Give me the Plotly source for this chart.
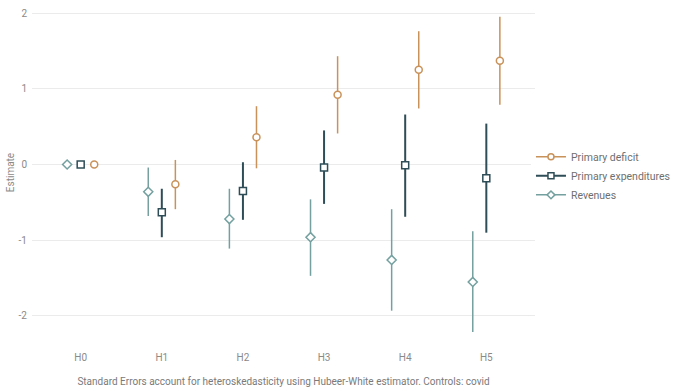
import plotly.graph_objects as go

categories = ["H0", "H1", "H2", "H3", "H4", "H5"]

deficit_est = [0.0, -0.26, 0.36, 0.92, 1.25, 1.37]
deficit_lo = [0.0, -0.59, -0.05, 0.41, 0.74, 0.79]
deficit_hi = [0.0, 0.06, 0.77, 1.43, 1.76, 1.95]

expend_est = [0.0, -0.63, -0.35, -0.04, -0.01, -0.18]
expend_lo = [0.0, -0.96, -0.73, -0.52, -0.69, -0.90]
expend_hi = [0.0, -0.32, 0.03, 0.45, 0.66, 0.54]

revenue_est = [0.0, -0.36, -0.72, -0.96, -1.26, -1.55]
revenue_lo = [0.0, -0.68, -1.11, -1.47, -1.93, -2.21]
revenue_hi = [0.0, -0.04, -0.32, -0.46, -0.59, -0.88]

series = [
    ("Primary deficit", deficit_est, deficit_lo, deficit_hi, "#c9925a", "circle", 0.167, 1.5),
    ("Primary expenditures", expend_est, expend_lo, expend_hi, "#2e4d57", "square", 0.0, 2.0),
    ("Revenues", revenue_est, revenue_lo, revenue_hi, "#74a0a0", "diamond", -0.167, 1.5),
]

fig = go.Figure()
for name, est, lo, hi, color, sym, off, lw in series:
    xs = [i + off for i in range(len(categories))]
    fig.add_trace(go.Scatter(
        x=xs, y=est, name=name, mode="markers", showlegend=False,
        marker=dict(symbol=sym, size=7, color="white", line=dict(width=1.5, color=color)),
        error_y=dict(type="data", symmetric=False,
                     array=[h - e for h, e in zip(hi, est)],
                     arrayminus=[e - l for e, l in zip(est, lo)],
                     width=0, thickness=lw, color=color),
    ))
for name, est, lo, hi, color, sym, off, lw in series:
    fig.add_trace(go.Scatter(
        x=[None], y=[None], name=name, mode="lines+markers",
        line=dict(color=color, width=lw),
        marker=dict(symbol=sym, size=6, color="white", line=dict(width=1.5, color=color)),
    ))

fig.add_shape(type="line", xref="paper", x0=0, x1=1, yref="y", y0=0, y1=0,
              line=dict(color="#555555", width=1, dash="dot"), layer="below")

font_family = "Roboto, Inter, sans-serif"
fig.update_layout(
    width=680, height=391,
    margin=dict(l=32, r=145, t=5, b=51, autoexpand=False),
    paper_bgcolor="white", plot_bgcolor="white",
    font=dict(family=font_family, size=10, color="#8a8a8a"),
    showlegend=True,
    legend=dict(x=0.992, y=0.49, xanchor="left", yanchor="middle", itemwidth=30,
                font=dict(size=10.5, color="#6f6f6f"), tracegroupgap=0),
    xaxis=dict(range=[-0.6, 5.6], tickmode="array", automargin=False,
               tickvals=list(range(len(categories))), ticktext=categories,
               showgrid=False, zeroline=False, showline=False,
               ticks="", ticklabelstandoff=10,
               title=dict(text="Standard Errors account for heteroskedasticity using Hubeer-White estimator. Controls: covid",
                          font=dict(size=10, color="#7a7a7a"), standoff=15)),
    yaxis=dict(range=[-2.317, 2.106], tickvals=[-2, -1, 0, 1, 2], automargin=False,
               ticktext=["-2", "-1", "0", "1", "2"],
               showgrid=True, gridcolor="#ebebeb", gridwidth=1,
               zeroline=False, showline=False, ticks="", ticklabelstandoff=4,
               title=dict(text="Estimate", font=dict(size=10, color="#8a8a8a"), standoff=2)),
)

fig.write_html("out.html", config={"displayModeBar": False},
               post_script="document.body.style.margin='0';document.body.style.overflow='hidden';")
